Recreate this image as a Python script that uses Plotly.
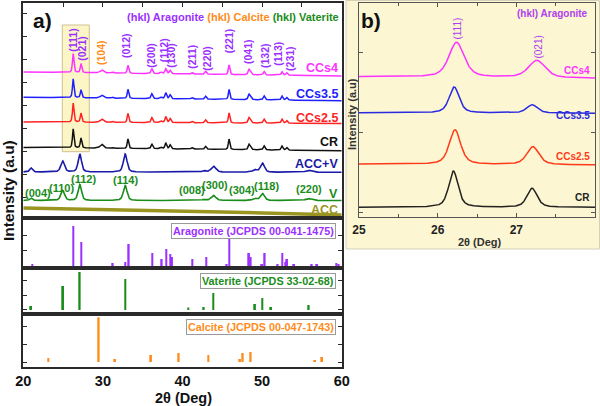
import numpy as np
import plotly.graph_objects as go

W, H = 600, 406
FONT = "Liberation Sans, Arial, sans-serif"
NARROW = "Liberation Sans Narrow, Liberation Sans, Arial, sans-serif"

# ---------------- data ----------------
# panel a, aragonite-type samples: peak positions (2theta, deg), FWHM and heights
arag_peak_pos = [26.27, 27.25, 29.85, 31.2, 33.15, 36.15, 37.3, 37.9, 38.45, 41.2, 42.9, 45.85, 48.35, 48.55, 50.25, 52.5, 53.1]
arag_peak_fwhm = [0.22, 0.22, 0.5, 0.3, 0.22, 0.25, 0.3, 0.25, 0.25, 0.3, 0.25, 0.22, 0.25, 0.25, 0.25, 0.25, 0.25]
ccs4_heights = [19, 9, 3, 1, 8, 5, 1.5, 5, 3.5, 1.5, 3, 9.5, 5, 2.5, 3.5, 3.5, 2.5]
ccs35_heights = [19, 8, 3, 1, 9, 5, 1.5, 6, 4, 1.5, 3, 10, 5, 2.5, 4, 4, 2.5]
ccs25_heights = [19, 9, 3.4, 1, 9, 5, 1.5, 6, 4, 1.5, 3, 10, 5, 2.5, 4, 4, 2.5]
cr_heights = [19, 10, 4, 1, 9.5, 5, 1.5, 6, 4, 1.5, 3, 10.5, 5, 2.5, 4, 4, 2.5]

# baselines (start at 20 deg, end at 60 deg)
ccs4_base = [146.3, 142.3]
ccs35_base = [121.0, 117.6]
ccs25_base = [96.3, 94.8]
cr_base = [70.8, 67.6]

# vaterite-containing samples
vat_peak_pos = [20.97, 24.95, 27.1, 32.8, 42.7, 43.9, 49.1, 50.05, 55.85]
vat_peak_fwhm = [0.4, 0.55, 0.5, 0.55, 0.5, 0.7, 0.6, 0.6, 0.9]
accv_heights = [4, 11, 18, 18, 1.5, 6, 2.5, 9, 2]
v_heights = [2.5, 10, 16, 15, 1, 5, 2, 7, 2]
accv_base = [46.3, 46.0]
v_base = [17.8, 17.8]

# amorphous ACC trace
acc_x = [20, 25, 30, 35, 40, 45, 50, 55, 60]
acc_y = [10.3, 9.6, 9.0, 8.4, 7.4, 6.4, 5.4, 4.4, 3.4]

# reference patterns (JCPDS stick patterns)
arag_ref_pos = [21.13, 26.28, 27.29, 31.23, 32.82, 33.24, 36.21, 37.38, 37.97, 38.47, 38.68, 41.24, 42.99, 45.55,
                45.88, 48.35, 48.56, 49.99, 50.32, 51.95, 52.54, 52.96, 53.13, 54.01, 56.23, 56.90, 59.33, 59.62]
arag_ref_int = [2, 40, 24, 3, 4, 22, 13, 7, 17, 12, 9, 7, 9, 2, 33, 13, 9, 2, 13, 2, 13, 4, 7, 2, 2, 2, 3, 2]
vat_ref_pos = [20.97, 24.99, 27.08, 32.82, 40.73, 42.66, 43.87, 49.10, 50.03, 51.12, 55.85]
vat_ref_int = [4, 24, 38, 31, 2.5, 3, 17, 6, 12, 3, 5]
calc_ref_pos = [23.14, 29.47, 31.52, 36.04, 39.52, 43.25, 47.22, 47.56, 48.56, 56.65, 57.53]
calc_ref_int = [4, 44.7, 3, 7, 9, 7, 3, 9, 10, 2, 5]

# panel b (zoom 25-28 deg): (111) and (021) peaks for each sample
b_samples = ["CCs4", "CCs3.5", "CCs2.5", "CR"]
b_peak_pos = [[26.24, 27.26], [26.21, 27.20], [26.22, 27.21], [26.20, 27.20]]
b_peak_h = [[35, 17.4], [26, 8.4], [34.7, 18], [36.3, 19]]
b_peak_fwhm = [[0.23, 0.25], [0.15, 0.16], [0.17, 0.18], [0.14, 0.15]]
b_base = [[140.0, 138.4], [104.0, 103.4], [52.7, 51.7], [9.4, 9.4]]

# hkl labels
arag_hkl = ["(111)", "(021)", "(104)", "(012)", "(200)", "(112)", "(130)", "(211)", "(220)",
            "(221)", "(041)", "(132)", "(113)", "(231)"]
arag_hkl_x = [26.2, 27.34, 29.76, 32.9, 36.0, 37.71, 38.52, 41.16, 43.04, 45.88, 48.23, 50.37, 51.96, 53.5]
vat_hkl = ["(004)", "(110)", "(112)", "(114)", "(008)", "(300)", "(304)", "(118)", "(220)"]
vat_hkl_x = [21.85, 24.86, 27.5, 32.86, 41.19, 44.08, 47.47, 50.49, 55.9]

# ---------------- colours ----------------
C_MAG = "#ff33ff"
C_BLUE = "#2020ff"
C_RED = "#ff2222"
C_BLACK = "#111111"
C_NAVY = "#1a1aa8"
C_GREEN = "#1a8c1a"
C_OLIVE = "#999520"
C_PURPLE = "#9b30ff"
C_ORANGE = "#ff8c1a"


def py(px):  # pixel row -> paper y
    return 1 - px / H


def pxx(px):
    return px / W


def profile(x, pos, h, fwhm, eta=0.6):
    y = np.zeros_like(x)
    for p, hh, f in zip(pos, h, fwhm):
        d = (x - p) ** 2 / f ** 2
        y += hh * (eta / (1 + 4 * d) + (1 - eta) * np.exp(-4 * np.log(2) * d))
    return y


fig = go.Figure()

xa = np.linspace(20, 60, 2401)


def base(b, x, lo, hi):
    return b[0] + (b[1] - b[0]) * (x - lo) / (hi - lo)


# ---------- panel a top ----------
for heights, b, col in [(ccs4_heights, ccs4_base, C_MAG), (ccs35_heights, ccs35_base, C_BLUE),
                        (ccs25_heights, ccs25_base, C_RED), (cr_heights, cr_base, C_BLACK)]:
    y = base(b, xa, 20, 60) + profile(xa, arag_peak_pos, heights, arag_peak_fwhm)
    fig.add_trace(go.Scatter(x=xa, y=y, mode="lines", line=dict(color=col, width=1.5),
                             xaxis="x", yaxis="y", showlegend=False, hoverinfo="skip"))

for heights, b, col in [(accv_heights, accv_base, C_NAVY), (v_heights, v_base, C_GREEN)]:
    y = base(b, xa, 20, 60) + profile(xa, vat_peak_pos, heights, vat_peak_fwhm, eta=0.5)
    fig.add_trace(go.Scatter(x=xa, y=y, mode="lines", line=dict(color=col, width=1.6),
                             xaxis="x", yaxis="y", showlegend=False, hoverinfo="skip"))

fig.add_trace(go.Scatter(x=acc_x, y=acc_y, mode="lines", line=dict(color=C_OLIVE, width=3.5),
                         xaxis="x", yaxis="y", showlegend=False, hoverinfo="skip"))

# ---------- reference sticks ----------
for pos, inten, col, xx, yy in [(arag_ref_pos, arag_ref_int, C_PURPLE, "x2", "y2"),
                                (vat_ref_pos, vat_ref_int, C_GREEN, "x3", "y3"),
                                (calc_ref_pos, calc_ref_int, C_ORANGE, "x4", "y4")]:
    fig.add_trace(go.Bar(x=pos, y=inten, width=0.24, marker=dict(color=col, line=dict(width=0)),
                         xaxis=xx, yaxis=yy, showlegend=False, hoverinfo="skip"))

# ---------- panel b ----------
xb = np.linspace(25, 28, 1201)
b_colors = [C_MAG, "#2a2ae0", "#ff3a1a", "#222222"]
for pos, h, f, b, col in zip(b_peak_pos, b_peak_h, b_peak_fwhm, b_base, b_colors):
    y = base(b, xb, 25, 28) + profile(xb, pos, h, f, eta=0.55)
    fig.add_trace(go.Scatter(x=xb, y=y, mode="lines", line=dict(color=col, width=1.5),
                             xaxis="x5", yaxis="y5", showlegend=False, hoverinfo="skip"))

# ---------- axes ----------
XA_DOM = [pxx(23.3), pxx(341.7)]
common = dict(showgrid=False, zeroline=False, showline=True, linecolor="#2a2a2a", linewidth=1.5,
              automargin=False)

layout = dict(
    width=W, height=H, margin=dict(l=0, r=0, t=0, b=0, autoexpand=False),
    paper_bgcolor="white", plot_bgcolor="rgba(0,0,0,0)",
    barmode="overlay", showlegend=False,
    font=dict(family=FONT, color="#111"),
    xaxis=dict(domain=XA_DOM, range=[20, 60], anchor="y", side="top", ticks="inside", ticklen=4,
               tick0=20, dtick=5, showticklabels=False, mirror=True, tickcolor="#2a2a2a", **common),
    yaxis=dict(domain=[py(218.3), py(3)], range=[0, 215.3], anchor="x", ticks="inside", ticklen=4,
               tick0=21.3, dtick=23, showticklabels=False, mirror=True, tickcolor="#2a2a2a", **common),
    xaxis2=dict(domain=XA_DOM, range=[20, 60], anchor="y2", ticks="", showticklabels=False, mirror=True, **common),
    yaxis2=dict(domain=[py(268.3), py(218.3)], range=[-2.3, 47.7], anchor="x2", ticks="inside", ticklen=4,
                tickvals=[0, 15.5, 31], showticklabels=False, mirror="ticks", tickcolor="#2a2a2a", **common),
    xaxis3=dict(domain=XA_DOM, range=[20, 60], anchor="y3", ticks="", showticklabels=False, mirror=True, **common),
    yaxis3=dict(domain=[py(314), py(268.3)], range=[-4, 41.7], anchor="x3", ticks="inside", ticklen=4,
                tickvals=[0.7, 15, 29.7], showticklabels=False, mirror="ticks", tickcolor="#2a2a2a", **common),
    xaxis4=dict(domain=XA_DOM, range=[20, 60], anchor="y4", ticks="", tick0=20, dtick=10,
                showticklabels=True, mirror=True, ticklabelstandoff=0,
                tickfont=dict(family=FONT, size=14.5, color="#111", weight="bold"), **common),
    yaxis4=dict(domain=[py(366.7), py(314)], range=[-4.7, 48], anchor="x4", ticks="inside", ticklen=4,
                tickvals=[0, 17.7, 35.3], showticklabels=False, mirror="ticks", tickcolor="#2a2a2a", **common),
    xaxis5=dict(domain=[pxx(359), pxx(595)], range=[25, 28], anchor="y5", ticks="inside", ticklen=4,
                tickvals=[25, 26, 27, 28], mirror="ticks", showgrid=False, zeroline=False, showline=True,
                linecolor="#555", linewidth=1, tickcolor="#555", ticklabelstandoff=2, automargin=False,
                minor=dict(ticks="inside", dtick=0.5, ticklen=3, tickcolor="#555"),
                tickfont=dict(family=NARROW, size=12, color="#222", weight="bold")),
    yaxis5=dict(domain=[py(216.7), py(3)], range=[0, 213.7], anchor="x5", ticks="inside", ticklen=4,
                tickvals=[4, 84, 164], showticklabels=False, mirror="ticks", showgrid=False, zeroline=False,
                showline=True, linecolor="#555", linewidth=1, tickcolor="#555", automargin=False),
)
fig.update_layout(**layout)

# ---------- shapes ----------
fig.add_shape(type="rect", xref="paper", yref="paper", x0=pxx(346), x1=pxx(599.5), y0=py(249), y1=py(0.5),
              fillcolor="#fcf6d2", line=dict(color="#d6d0b8", width=1), layer="below")
fig.add_shape(type="rect", xref="x", yref="y", x0=24.9, x1=28.29, y0=66.6, y1=193.3,
              fillcolor="rgba(252,245,196,0.95)", line=dict(color="#cdbf92", width=1), layer="below")

ann = []


def A(**kw):
    d = dict(showarrow=False, xanchor="center", yanchor="middle")
    d.update(kw)
    ann.append(d)


# panel labels
A(text="<b>a)</b>", xref="paper", yref="paper", x=pxx(42), y=py(21), font=dict(size=21, color="#111"))
A(text="<b>b)</b>", xref="paper", yref="paper", x=pxx(371), y=py(20), font=dict(size=21, color="#111"))

# header (hkl) legend
A(text=f"<span style='color:{C_PURPLE}'>(hkl) Aragonite</span> <span style='color:{C_ORANGE}'>(hkl) Calcite</span> "
       f"<span style='color:{C_GREEN}'>(hkl) Vaterite</span>",
  xref="paper", yref="paper", x=pxx(341), y=py(17), xanchor="right", font=dict(size=11, weight="bold"))

# aragonite hkl labels (vertical)
arag_hkl_y = [178.3, 170.3, 166.3, 173.3, 163.3, 168.3, 163.3, 161.3, 160.3, 177.3, 166.3, 162.3, 164.3, 160.3]
for t, x, yv in zip(arag_hkl, arag_hkl_x, arag_hkl_y):
    col = C_ORANGE if t == "(104)" else C_PURPLE
    A(text=t, xref="x", yref="y", x=x, y=yv, textangle=-90, font=dict(size=10.5, color=col, weight="bold"))

# vaterite hkl labels
vat_hkl_y = [25.3, 30.3, 39.3, 38.3, 28.3, 33.3, 28.3, 32.3, 29.3]
for t, x, yv in zip(vat_hkl, vat_hkl_x, vat_hkl_y):
    A(text=t, xref="x", yref="y", x=x, y=yv, font=dict(size=11, color=C_GREEN, weight="bold"))

# sample labels panel a
for t, yv, col in [("CCs4", 150.3, C_MAG), ("CCs3.5", 124.3, C_BLUE), ("CCs2.5", 100.3, C_RED),
                   ("CR", 76.3, C_BLACK), ("ACC+V", 54.3, C_NAVY), ("V", 24.3, C_GREEN), ("ACC", 8.3, C_OLIVE)]:
    A(text=t, xref="paper", yref="y", x=pxx(340), y=yv, xanchor="right", font=dict(size=12.5, color=col, weight="bold"))

# reference card labels
for t, col, yy in [("Aragonite (JCPDS 00-041-1475)", C_PURPLE, 230.5),
                   ("Vaterite (JCPDS 33-02-68)", C_GREEN, 280.5),
                   ("Calcite (JCPDS 00-047-1743)", C_ORANGE, 327)]:
    A(text=t, xref="paper", yref="paper", x=pxx(336), y=py(yy), xanchor="right",
      font=dict(size=10.8, color=col, weight="bold"), bgcolor="white", bordercolor="#9a9a9a",
      borderwidth=1, borderpad=1)

# axis titles panel a
A(text="<b>Intensity (a.u)</b>", xref="paper", yref="paper", x=pxx(8), y=py(191), textangle=-90,
  font=dict(size=15.5, color="#111"))
A(text="<b>2θ (Deg)</b>", xref="paper", yref="paper", x=pxx(183), y=py(398), font=dict(size=14.5, color="#111"))

# panel b texts
A(text="(hkl) Aragonite", xref="paper", yref="paper", x=pxx(590), y=py(14), xanchor="right",
  font=dict(family=NARROW, size=10, color="#b040f0", weight="bold"))
A(text="(111)", xref="x5", yref="y5", x=26.24, y=216.7 - 29, textangle=-90,
  font=dict(family=NARROW, size=10, color="#b040f0"))
A(text="(021)", xref="x5", yref="y5", x=27.27, y=216.7 - 47, textangle=-90,
  font=dict(family=NARROW, size=10, color="#b040f0"))
for t, yy, col in [("CCs4", 70, C_MAG), ("CCs3.5", 115, "#2a2ae0"), ("CCs2.5", 156, "#ff3a1a"), ("CR", 198, "#222")]:
    A(text=t, xref="paper", yref="paper", x=pxx(592), y=py(yy), xanchor="right",
      font=dict(family=NARROW, size=10, color=col, weight="bold"))
A(text="Intensity (a.u)", xref="paper", yref="paper", x=pxx(352), y=py(114), textangle=-90,
  font=dict(family=NARROW, size=11, color="#333", weight="bold"))
A(text="2θ (Deg)", xref="paper", yref="paper", x=pxx(480), y=py(242),
  font=dict(family=NARROW, size=11, color="#333", weight="bold"))

fig.update_layout(annotations=ann)
fig.write_html("out.html", config={"displayModeBar": False},
               post_script="document.body.style.margin='0px';document.body.style.padding='0px';"
                           "document.body.style.overflow='hidden';")
